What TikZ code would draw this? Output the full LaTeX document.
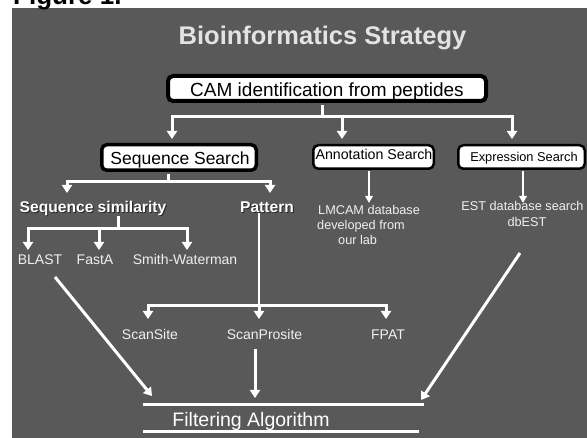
\documentclass[tikz,border=0pt]{standalone}
\usepackage{fontspec}
\setmainfont{Liberation Sans}
\usetikzlibrary{arrows.meta,calc}
\definecolor{bgc}{HTML}{595959}
\definecolor{ttl}{HTML}{E3E3E3}
\definecolor{lbl}{HTML}{F0F0F0}
\newcommand{\fsz}[1]{\fontsize{#1}{#1}\selectfont}
\begin{document}
\begin{tikzpicture}[x=1pt,y=-1pt,
  wl/.style={draw=white,line width=3pt},
  wt/.style={draw=white,line width=2pt},
  arrthick/.style={-{Triangle[width=10pt,length=8pt]}},
  arrthin/.style={-{Triangle[width=7.5pt,length=7pt]}},
  boxstyle/.style={draw=black,fill=white,rounded corners=5pt,inner sep=0pt},
  lab/.style={text=lbl,inner sep=0pt,anchor=base},
  boldlab/.style={text=white,inner sep=0pt,anchor=base,font=\bfseries\fsz{15.6}},
  shadowlab/.style={text=black!85,inner sep=0pt,anchor=base,font=\bfseries\fsz{15.6}},
  boxtext/.style={text=black,inner sep=0pt,anchor=base}]
\useasboundingbox (0,0) rectangle (587,438);
\fill[white] (0,0) rectangle (587,438);
\fill[bgc] (12,8) rectangle (587,438);

% header texts
\node[font=\bfseries\fsz{26},anchor=base west,inner sep=0pt] (fig) at (13,5) {Figure 1.};
\node[font=\bfseries\fsz{25.5},text=ttl,anchor=base,inner sep=0pt] (title) at (322.5,45) {Bioinformatics Strategy};

% boxes
\node[boxstyle,line width=4pt,minimum width=318pt,minimum height=25pt] (cam) at (327,88.5) {};
\node[boxtext,font=\fsz{19}] (camt) at (327,97) {CAM identification from peptides};
\node[boxstyle,line width=3.5pt,minimum width=154.5pt,minimum height=25.5pt] (ss) at (179,157.5) {};
\node[boxtext,font=\fsz{17.5}] (sst) at (180,165) {Sequence Search};
\node[boxstyle,line width=2.5pt,minimum width=120.5pt,minimum height=23.5pt] (ann) at (373.5,157) {};
\node[boxtext,font=\fsz{14.2}] (annt) at (374,160) {Annotation Search};
\node[boxstyle,line width=2.5pt,minimum width=126.5pt,minimum height=23.5pt] (exp) at (521.5,157) {};
\node[boxtext,font=\fsz{12.8}] (expt) at (524,161.5) {Expression Search};

% bold labels with shadow
\node[shadowlab] (simsh) at (94,214) {Sequence similarity};
\node[boldlab] (sim) at (93,213) {Sequence similarity};
\node[shadowlab] (patsh) at (268,214) {Pattern};
\node[boldlab] (pat) at (267,213) {Pattern};

% leaf labels
\node[lab,font=\fsz{14}] (blast) at (40,265) {BLAST};
\node[lab,font=\fsz{14}] (fasta) at (95,265) {FastA};
\node[lab,font=\fsz{14}] (sw) at (185,265) {Smith-Waterman};
\node[lab,font=\fsz{14}] (scansite) at (150,340) {ScanSite};
\node[lab,font=\fsz{14}] (scanpro) at (264.5,340) {ScanProsite};
\node[lab,font=\fsz{14}] (fpat) at (388,340) {FPAT};
\node[lab,font=\fsz{12.7},anchor=base west] (lm1) at (318,215) {LMCAM database};
\node[lab,font=\fsz{12.7},anchor=base west] (lm2) at (317,230) {developed from};
\node[lab,font=\fsz{12.7},anchor=base west] (lm3) at (338,244.5) {our lab};
\node[lab,font=\fsz{12.7}] (est1) at (522.5,211) {EST database search};
\node[lab,font=\fsz{12.7}] (est2) at (527,227) {dbEST};
\node[text=white,inner sep=0pt,anchor=base,font=\fsz{19.5}] (filt) at (251,426.5) {Filtering Algorithm};

% coordinates
\coordinate (j0) at (322,117);
\coordinate (e1) at (172,139);
\coordinate (e2) at (342,139);
\coordinate (e3) at (512,139);
\coordinate (j1) at (168,182);
\coordinate (f1) at (67,193);
\coordinate (f2) at (270,193);
\coordinate (j2) at (118,229);
\coordinate (h1) at (28,250);
\coordinate (h2) at (99,250);
\coordinate (h3) at (187,250);
\coordinate (j3) at (259,306);
\coordinate (g1) at (148,319);
\coordinate (g2) at (259,319);
\coordinate (g3) at (386,319);
\coordinate (k1) at (369,203);
\coordinate (k2) at (523,203);
\coordinate (pa) at (255,349);
\coordinate (pb) at (255,398);
\coordinate (d1s) at (55,277);
\coordinate (d1e) at (152,396);
\coordinate (d2s) at (520,253);
\coordinate (d2e) at (421,400);
\coordinate (t1) at (143,405);
\coordinate (t2) at (424,405);
\coordinate (b1) at (143,432);
\coordinate (b2) at (419,432);

% connectors
\draw[wl,shorten <=2pt] (cam.south -| j0) -- (j0);
\draw[wl,arrthick] (j0) -| (e1);
\draw[wl,arrthick] (j0) -| (e3);
\draw[wl,arrthick] (e2 |- j0) -- (e2);

\draw[wl,shorten <=1.75pt] (ss.south -| j1) -- (j1);
\draw[wl,arrthick] (j1) -| (f1);
\draw[wl,arrthick] (j1) -| (f2);

\draw[wl] (sim.south -| j2) -- (j2);
\draw[wl,arrthick] (j2) -| (h1);
\draw[wl,arrthick] (j2) -| (h3);
\draw[wl,arrthick] (h2 |- j2) -- (h2);

\draw[wt] (pat.south -| j3) -- (j3);
\draw[wl,arrthick] (j3) -| (g1);
\draw[wl,arrthick] (j3) -| (g3);
\draw[wl,arrthick] (j3) -- (g2);

\draw[wt,arrthin,shorten <=1.25pt] (k1 |- ann.south) -- (k1);
\draw[wt,arrthin,shorten <=1.25pt] (k2 |- exp.south) -- (k2);

\draw[wl,arrthick] (pa) -- (pb);
\draw[wl,arrthick] (d1s) -- (d1e);
\draw[wl,arrthick] (d2s) -- (d2e);

\draw[wl] (t1) -- (t2);
\draw[wl] (b1) -- (b2);
\end{tikzpicture}
\end{document}
